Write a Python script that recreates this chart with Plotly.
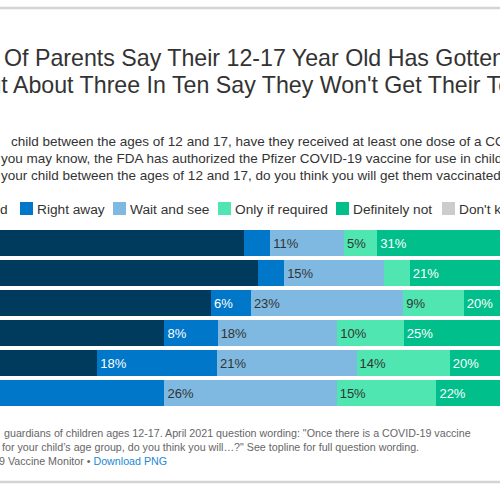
import plotly.graph_objects as go

# ---------------- data ----------------
periods = ["Oct 2021", "Sept 2021", "Aug 2021", "July 2021", "June 2021", "April 2021"]
series_names = ["Already vaccinated", "Right away", "Wait and see",
                "Only if required", "Definitely not", "Don't know"]
already_vaccinated = [46.5, 48.5, 41.5, 34.5, 24.4, 0]
right_away = [3.9, 4.0, 6.0, 8.0, 18.0, 34.5]
wait_and_see = [11.1, 15.0, 22.9, 18.0, 21.0, 25.9]
only_if_required = [5.0, 3.9, 9.1, 10.0, 14.0, 15.0]
definitely_not = [31, 21, 20, 25, 20, 22]
dont_know = [2.5, 7.6, 0.5, 4.5, 2.6, 2.6]

series_values = [already_vaccinated, right_away, wait_and_see,
                 only_if_required, definitely_not, dont_know]
colors = ["#003a5c", "#0077c8", "#7fb9e1", "#4fe6b2", "#00bf8b", "#cccccc"]
text_colors = ["white", "white", "#333333", "#333333", "white", "#333333"]

title_line1 = "Of Parents Say Their 12-17 Year Old Has Gotten A COVID-19 Vaccine,"
title_line2 = "But About Three In Ten Say They Won't Get Their Teen Vaccinated"
question_lines = [
    "child between the ages of 12 and 17, have they received at least one dose of a COVID-19 vaccine?",
    "you may know, the FDA has authorized the Pfizer COVID-19 vaccine for use in children ages 12 and older.",
    "your child between the ages of 12 and 17, do you think you will get them vaccinated...?",
]
note_lines = [
    "guardians of children ages 12-17. April 2021 question wording: \"Once there is a COVID-19 vaccine",
    "for your child\u2019s age group, do you think you will\u2026?\" See topline for full question wording.",
    "9 Vaccine Monitor \u2022 <span style='color:#1a8ad4'>Download PNG</span>",
]

FONT = "Liberation Sans, Arial, Helvetica, sans-serif"
W, H = 500, 500
TOP, BOTTOM = 228, 408  # plot area pixel rows


def px_x(p):
    return p / W


def px_y(p):
    return (BOTTOM - p) / (BOTTOM - TOP)


fig = go.Figure()
for name, vals, col, tcol in zip(series_names, series_values, colors, text_colors):
    labels = [f"{round(v)}%" if v >= 4.5 else "" for v in vals]
    fig.add_trace(go.Bar(
        y=periods, x=vals, name=name, orientation="h",
        marker=dict(color=col, line=dict(width=0)),
        text=labels, textposition="inside", insidetextanchor="start",
        textangle=0, insidetextfont=dict(color=tcol, size=13, family=FONT),
        hoverinfo="skip", showlegend=False,
    ))

annotations = []
shapes = []
# rules (thin grey bands above the title and below the notes)
for yy in (8, 482):
    shapes.append(dict(type="rect", xref="paper", yref="paper", x0=0, x1=1,
                       y0=px_y(yy - 1.2), y1=px_y(yy + 1.2), layer="above",
                       fillcolor="#d4d4d4", line=dict(width=0)))
# titles
annotations.append(dict(text=title_line1, x=px_x(2), y=px_y(58), xref="paper", yref="paper",
                        xanchor="left", yanchor="middle", showarrow=False,
                        font=dict(size=23.2, color="#333333", family=FONT)))
annotations.append(dict(text=title_line2, x=px_x(-29.5), y=px_y(85), xref="paper", yref="paper",
                        xanchor="left", yanchor="middle", showarrow=False,
                        font=dict(size=23.2, color="#333333", family=FONT)))
q_x = [9, -1, -1]
q_y = [141, 158, 175]
for t, xx, yy in zip(question_lines, q_x, q_y):
    annotations.append(dict(text=t, x=px_x(xx), y=px_y(yy), xref="paper", yref="paper",
                            xanchor="left", yanchor="middle", showarrow=False,
                            font=dict(size=13.5, color="#333333", family=FONT)))
# legend (manual)
legend_items = [
    ("Already vaccinated", None, 10),
    ("Right away", 20, 35),
    ("Wait and see", 113, 128),
    ("Only if required", 218, 233),
    ("Definitely not", 336, 351),
    ("Don't know", 442, 457),
]
for (lab, sw, tx), col in zip(legend_items, colors):
    if sw is not None:
        shapes.append(dict(type="rect", xref="paper", yref="paper",
                           x0=px_x(sw), x1=px_x(sw + 13), y0=px_y(202), y1=px_y(215),
                           fillcolor=col, line=dict(width=0)))
    annotations.append(dict(text=lab, x=px_x(tx), y=px_y(209), xref="paper", yref="paper",
                            xanchor="left" if sw is not None else "right",
                            yanchor="middle", showarrow=False,
                            font=dict(size=13.7, color="#333333", family=FONT)))
# notes
n_x = [2, 0, -3.5]
n_y = [433, 447, 461]
for t, xx, yy in zip(note_lines, n_x, n_y):
    annotations.append(dict(text=t, x=px_x(xx), y=px_y(yy), xref="paper", yref="paper",
                            xanchor="left", yanchor="middle", showarrow=False,
                            font=dict(size=10.7, color="#666666", family=FONT)))

fig.update_layout(
    width=W, height=H, barmode="stack", bargap=4 / 30,
    margin=dict(l=0, r=0, t=TOP, b=H - BOTTOM, pad=0),
    paper_bgcolor="white", plot_bgcolor="white",
    xaxis=dict(visible=False, range=[65 / 6.65, 565 / 6.65], fixedrange=True),
    yaxis=dict(visible=False, range=[5.5, -0.5], fixedrange=True),
    annotations=annotations, shapes=shapes, showlegend=False,
    font=dict(family=FONT),
)

fig.write_html("out.html", config={"displayModeBar": False, "staticPlot": True},
               post_script="document.body.style.margin='0px';document.body.style.overflow='hidden';")
